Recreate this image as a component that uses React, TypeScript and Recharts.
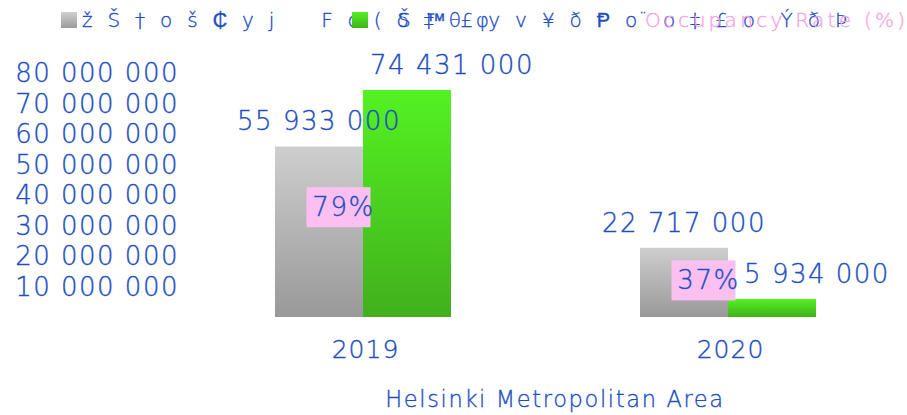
import React from "react";
import {
  ComposedChart,
  Bar,
  Line,
  XAxis,
  YAxis,
  Legend,
} from "recharts";

const categories = ["2019", "2020"];
const grayValues = [55933000, 22717000];
const greenValues = [74431000, 5934000];
const occupancyRate = [79, 37];
const yTicks = [10000000, 20000000, 30000000, 40000000, 50000000, 60000000, 70000000, 80000000];

const legendGray = "ž Š † o š ₵ y j    F c ( δ ‡ θ φ";
const legendGreen = "Š ™ £ y v ¥ ð Ᵽ o ̈ o ‡ £ o  Ý ð Þ";
const legendOcc = "Occupancy Rate (%)";
const xTitle = "Helsinki Metropolitan Area";

const FONT = "'DejaVu Sans', sans-serif";
const BLUE = "#1d4ec2";
const PINK = "#fcc0f0";
const PINK_TEXT = "#f7a3e3";

const data = categories.map((year, i) => ({
  year,
  gray: grayValues[i],
  green: greenValues[i],
  occ: occupancyRate[i],
}));

const fmt = (v: number) => String(v).replace(/\B(?=(\d{3})+(?!\d))/g, " ");

const textStyle = {
  fontFamily: FONT,
  fontSize: 26,
  fill: BLUE,
  stroke: BLUE,
  strokeWidth: 0.35,
  letterSpacing: 1.5,
  fontWeight: 200,
};

function barLabel(shift: number) {
  return (props: any) => {
    const { x, y, width, value } = props;
    return (
      <text
        x={Number(x) + Number(width) / 2 + shift}
        y={Number(y) - 25}
        textAnchor="middle"
        dominantBaseline="central"
        style={textStyle}
      >
        {fmt(value)}
      </text>
    );
  };
}

const occLabel = (props: any) => {
  const { x, y, value } = props;
  const cx = Number(x);
  const cy = Number(y);
  return (
    <g>
      <rect x={cx - 56} y={cy - 20} width={64} height={40} fill={PINK} />
      <text
        x={cx - 19}
        y={cy}
        textAnchor="middle"
        dominantBaseline="central"
        style={textStyle}
      >
        {value}%
      </text>
    </g>
  );
};

const legendText = { ...textStyle, fontSize: 20, letterSpacing: 4.3, whiteSpace: "pre" as const };

const LegendContent = () => (
  <svg width={910} height={36}>
    <defs>
      <linearGradient id="lgGray" x1="0" y1="0" x2="0" y2="1">
        <stop offset="0%" stopColor="#d0d0d0" />
        <stop offset="100%" stopColor="#9a9a9a" />
      </linearGradient>
      <linearGradient id="lgGreen" x1="0" y1="0" x2="0" y2="1">
        <stop offset="0%" stopColor="#55f222" />
        <stop offset="100%" stopColor="#42b21c" />
      </linearGradient>
    </defs>
    <rect x={61} y={12} width={16} height={16} fill="url(#lgGray)" />
    <text x={82} y={27} style={legendText}>
      {legendGray}
    </text>
    <rect x={352} y={12} width={16} height={16} fill="url(#lgGreen)" />
    <text x={398} y={27} style={legendText}>
      {legendGreen}
    </text>
    <text
      x={645}
      y={27}
      style={{
        ...textStyle,
        fontSize: 20,
        letterSpacing: 3.3,
        fill: PINK_TEXT,
        stroke: PINK_TEXT,
      }}
    >
      {legendOcc}
    </text>
  </svg>
);

export default function App() {
  return (
    <div
      style={{
        position: "absolute",
        left: 0,
        top: 0,
        width: 907,
        height: 415,
        overflow: "hidden",
        background: "#fff",
      }}
    >
      <ComposedChart
        width={910}
        height={415}
        data={data}
        barGap={0}
        margin={{ top: 73, right: 0, left: 0, bottom: 0 }}
      >
        <defs>
          <linearGradient id="gGray" x1="0" y1="0" x2="0" y2="1">
            <stop offset="0%" stopColor="#cecece" />
            <stop offset="100%" stopColor="#999999" />
          </linearGradient>
          <linearGradient id="gGreen" x1="0" y1="0" x2="0" y2="1">
            <stop offset="0%" stopColor="#54f222" />
            <stop offset="100%" stopColor="#41b01c" />
          </linearGradient>
        </defs>
        <XAxis
          dataKey="year"
          axisLine={false}
          tickLine={false}
          tickSize={0}
          tickMargin={23}
          height={98}
          tick={{ ...textStyle, fontSize: 25, letterSpacing: 1, dx: 3 }}
          label={{
            value: xTitle,
            position: "insideBottom",
            offset: 8,
            dx: 10,
            style: { ...textStyle, fontSize: 22.5, letterSpacing: 1.65 },
          }}
        />
        <YAxis
          yAxisId="left"
          width={180}
          domain={[0, 80000000]}
          ticks={yTicks}
          interval={0}
          axisLine={false}
          tickLine={false}
          tickSize={0}
          tickMargin={1}
          tickFormatter={fmt}
          tick={textStyle}
        />
        <YAxis yAxisId="occ" hide domain={[16, 156]} />
        <Legend
          verticalAlign="middle"
          align="center"
          layout="horizontal"
          wrapperStyle={{ top: 0, left: 0, width: 910, height: 36 }}
          content={<LegendContent />}
        />
        <Bar
          yAxisId="left"
          dataKey="gray"
          barSize={88}
          fill="url(#gGray)"
          isAnimationActive={false}
          label={barLabel(0)}
        />
        <Bar
          yAxisId="left"
          dataKey="green"
          barSize={88}
          fill="url(#gGreen)"
          isAnimationActive={false}
          label={barLabel(45)}
        />
        <Line
          yAxisId="occ"
          dataKey="occ"
          stroke="none"
          dot={false}
          activeDot={false}
          isAnimationActive={false}
          label={occLabel}
        />
      </ComposedChart>
    </div>
  );
}
